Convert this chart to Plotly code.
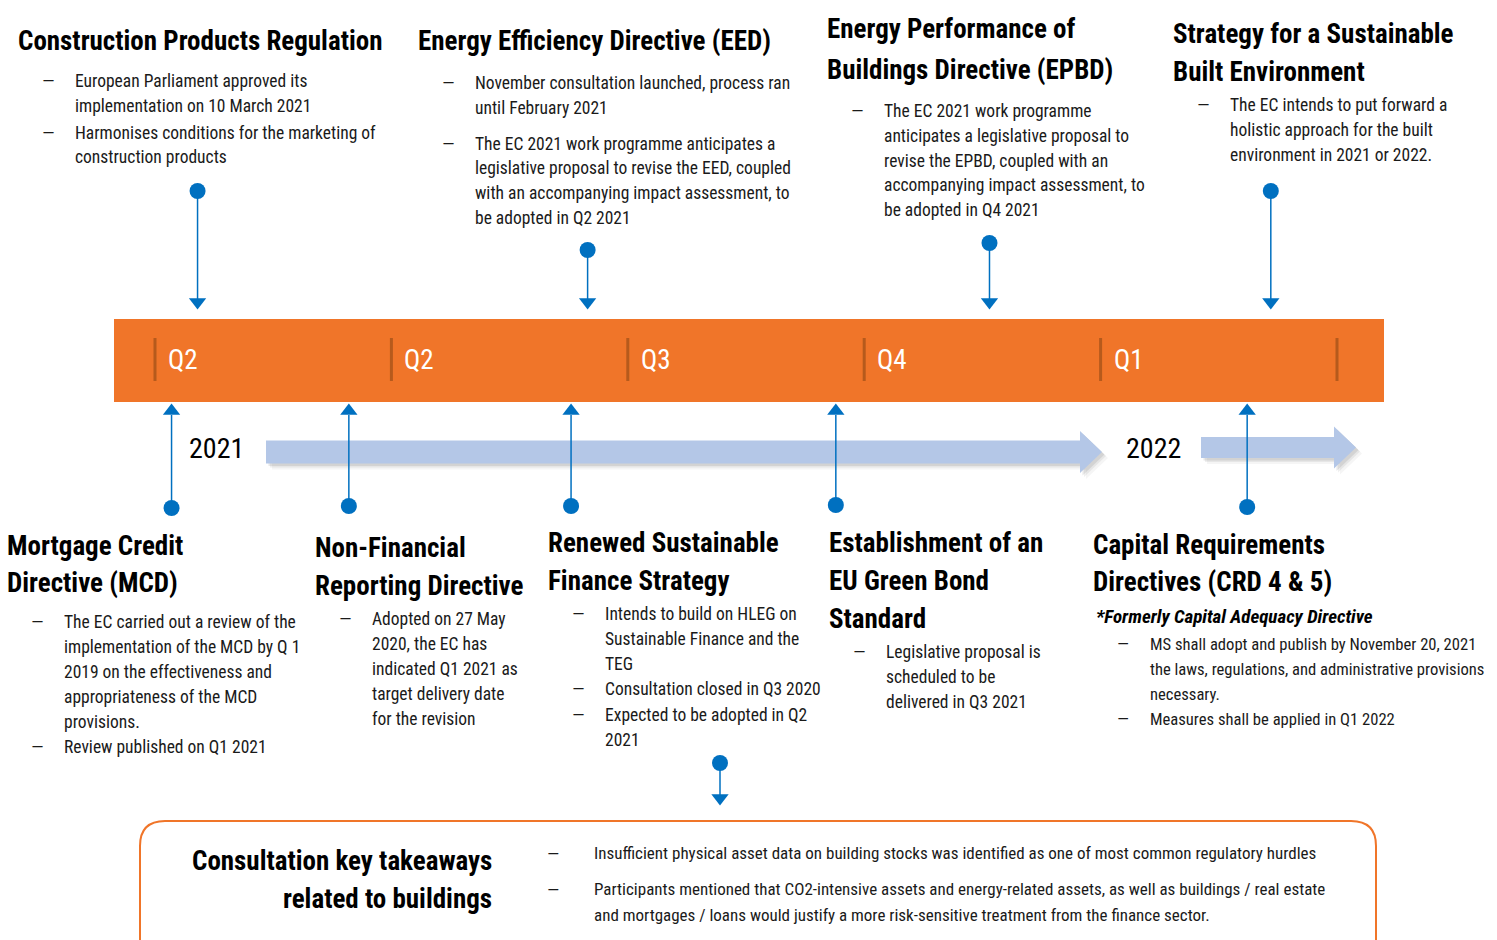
import plotly.graph_objects as go

# ---------------- DATA ----------------
quarter_labels = ["Q2", "Q2", "Q3", "Q4", "Q1"]
year_labels = ["2021", "2022"]

# timeline position of each event, in quarters from the start of the first "Q2" segment
top_titles = [
    ["Construction Products Regulation"],
    ["Energy Efficiency Directive (EED)"],
    ["Energy Performance of", "Buildings Directive (EPBD)"],
    ["Strategy for a Sustainable", "Built Environment"],
]
top_bullets = [
    [["European Parliament approved its", "implementation on 10 March 2021"],
     ["Harmonises conditions for the marketing of", "construction products"]],
    [["November consultation launched, process ran", "until February 2021"],
     ["The EC 2021 work programme anticipates a", "legislative proposal to revise the EED, coupled",
      "with an accompanying impact assessment, to", "be adopted in Q2 2021"]],
    [["The EC 2021 work programme", "anticipates a legislative proposal to",
      "revise the EPBD, coupled with an", "accompanying impact assessment, to", "be adopted in Q4 2021"]],
    [["The EC intends to put forward a", "holistic approach for the built",
      "environment in 2021 or 2022."]],
]
top_positions = [0.18, 1.83, 3.53, 4.72]

bottom_titles = [
    ["Mortgage Credit", "Directive (MCD)"],
    ["Non-Financial", "Reporting Directive"],
    ["Renewed Sustainable", "Finance Strategy"],
    ["Establishment of an", "EU Green Bond", "Standard"],
    ["Capital Requirements", "Directives (CRD 4 & 5)"],
]
bottom_subtitles = ["", "", "", "", "*Formerly Capital Adequacy Directive"]
bottom_bullets = [
    [["The EC carried out a review of the", "implementation of the MCD by Q 1",
      "2019 on the effectiveness and", "appropriateness of the MCD", "provisions."],
     ["Review published on Q1 2021"]],
    [["Adopted on 27 May", "2020, the EC has", "indicated Q1 2021 as",
      "target delivery date", "for the revision"]],
    [["Intends to build on HLEG on", "Sustainable Finance and the", "TEG"],
     ["Consultation closed in Q3 2020"],
     ["Expected to be adopted in Q2", "2021"]],
    [["Legislative proposal is", "scheduled to be", "delivered in Q3 2021"]],
    [["MS shall adopt and publish by November 20, 2021",
      "the laws, regulations, and administrative provisions", "necessary."],
     ["Measures shall be applied in Q1 2022"]],
]
bottom_positions = [0.07, 0.82, 1.76, 2.88, 4.62]

consultation_title = ["Consultation key takeaways", "related to buildings"]
consultation_bullets = [
    ["Insufficient physical asset data on building stocks was identified as one of most common regulatory hurdles"],
    ["Participants mentioned that CO2-intensive assets and energy-related assets, as well as buildings / real estate",
     "and mortgages / loans would justify a more risk-sensitive treatment from the finance sector."],
]
consultation_position = 2.39

# ---------------- STYLE / LAYOUT ----------------
W, H = 1497, 940
X0, QW = 155.0, 236.4          # pixel of quarter 0 and width of a quarter
ORANGE = "#F07529"
TICK = "#B65A1C"
BLUE = "#0070C0"
LIGHT = "#B4C7E7"
TXT = "#1a1a1a"
FONT = ("Noto Sans ExtraCondensed, Noto Sans Condensed, Roboto Condensed, "
        "Liberation Sans Narrow, DejaVu Sans Condensed, sans-serif")

TSIZE = 27     # headings
BSIZE = 17.5   # body text
CSIZE = 17     # consultation body

def qx(q):
    return X0 + QW * q

fig = go.Figure()
ann = []
shapes = []

def text(x, y, s, size, bold=False, italic=False, anchor="left", color=TXT):
    if bold:
        s = "<b>" + s + "</b>"
    if italic:
        s = "<i>" + s + "</i>"
    x = x - 2 if anchor == "left" else x + 2
    ann.append(dict(x=x, y=y, xref="x", yref="y", text=s, showarrow=False,
                    xanchor=anchor, yanchor="middle",
                    font=dict(family=FONT, size=size, color=color)))

def block(x, title_y, title_lines, title_gap, bullet_y, bullets, line_gap, bullet_gaps,
          tsize=TSIZE, bsize=BSIZE, dash_dx=24, text_dx=57):
    for i, t in enumerate(title_lines):
        text(x, title_y + i * title_gap, t, tsize, bold=True, color="black")
    y = bullet_y
    for bi, b in enumerate(bullets):
        text(x + dash_dx, y, "—", bsize + 1)
        for li, line in enumerate(b):
            text(x + text_dx, y, line, bsize)
            y += line_gap
        if bi < len(bullet_gaps):
            y += bullet_gaps[bi]

# orange band
shapes.append(dict(type="rect", xref="x", yref="y", x0=114, x1=1384, y0=319, y1=402,
                   fillcolor=ORANGE, line=dict(width=0), layer="below"))
for i in range(len(quarter_labels) + 1):
    shapes.append(dict(type="line", xref="x", yref="y", x0=qx(i), x1=qx(i), y0=338, y1=381,
                       line=dict(color=TICK, width=3)))
for i, lab in enumerate(quarter_labels):
    text(qx(i) + 13, 360, lab, 27, color="white")

# light-blue year arrows (shadow + arrow)
def arrow_path(xs, xe, xh, yc, half_shaft, half_head):
    return (f"M {xs},{yc-half_shaft} L {xh},{yc-half_shaft} L {xh},{yc-half_head} "
            f"L {xe},{yc} L {xh},{yc+half_head} L {xh},{yc+half_shaft} L {xs},{yc+half_shaft} Z")

for (xs, xe, xh, yc, hs, hh) in [(266, 1102, 1080, 452, 11.5, 21), (1201, 1356, 1334, 447.5, 10.5, 21)]:
    for k, op in [(6, 0.08), (4, 0.12), (2.5, 0.18)]:
        shapes.append(dict(type="path", xref="x", yref="y",
                           path=arrow_path(xs + k, xe + k, xh + k, yc + k, hs, hh),
                           fillcolor="#7f7f7f", opacity=op, line=dict(width=0), layer="below"))
    shapes.append(dict(type="path", xref="x", yref="y", path=arrow_path(xs, xe, xh, yc, hs, hh),
                       fillcolor=LIGHT, line=dict(width=0), layer="below"))

text(189, 448, year_labels[0], 28, color="black")
text(1126, 448, year_labels[1], 28, color="black")

# bottom box
shapes.append(dict(type="path", xref="x", yref="y",
                   path="M 140,980 L 140,846 Q 140,821 165,821 L 1351,821 Q 1376,821 1376,846 L 1376,980",
                   line=dict(color=ORANGE, width=2), fillcolor="rgba(0,0,0,0)"))

# connectors: top (dot above, arrow pointing down to band)
top_dot_y = [191, 250, 243, 191]
for q, dy in zip(top_positions, top_dot_y):
    x = qx(q)
    fig.add_trace(go.Scatter(x=[x, x], y=[dy, 300], mode="lines",
                             line=dict(color=BLUE, width=1.5), hoverinfo="skip"))
    fig.add_trace(go.Scatter(x=[x], y=[dy], mode="markers", hoverinfo="skip",
                             marker=dict(symbol="circle", size=16, color=BLUE)))
    fig.add_trace(go.Scatter(x=[x], y=[302], mode="markers", hoverinfo="skip",
                             marker=dict(symbol="triangle-down", size=15, color=BLUE)))

bottom_dot_y = [508, 506, 506, 505, 507]
for q, dy in zip(bottom_positions, bottom_dot_y):
    x = qx(q)
    fig.add_trace(go.Scatter(x=[x, x], y=[dy, 415], mode="lines",
                             line=dict(color=BLUE, width=1.5), hoverinfo="skip"))
    fig.add_trace(go.Scatter(x=[x], y=[dy], mode="markers", hoverinfo="skip",
                             marker=dict(symbol="circle", size=16, color=BLUE)))
    fig.add_trace(go.Scatter(x=[x], y=[411], mode="markers", hoverinfo="skip",
                             marker=dict(symbol="triangle-up", size=15, color=BLUE)))

# consultation connector
cx = qx(consultation_position)
fig.add_trace(go.Scatter(x=[cx, cx], y=[763, 796], mode="lines",
                         line=dict(color=BLUE, width=1.5), hoverinfo="skip"))
fig.add_trace(go.Scatter(x=[cx], y=[763], mode="markers", hoverinfo="skip",
                         marker=dict(symbol="circle", size=16, color=BLUE)))
fig.add_trace(go.Scatter(x=[cx], y=[798], mode="markers", hoverinfo="skip",
                         marker=dict(symbol="triangle-down", size=15, color=BLUE)))

# top text blocks
top_layout = [
    dict(x=18, ty=41, tg=0, by=81, gaps=[2], bs=BSIZE),
    dict(x=418, ty=41, tg=0, by=83, gaps=[11], bs=BSIZE),
    dict(x=827, ty=29, tg=41, by=111, gaps=[], bs=BSIZE),
    dict(x=1173, ty=34, tg=38, by=105, gaps=[], bs=BSIZE),
]
for t, b, L in zip(top_titles, top_bullets, top_layout):
    block(L["x"], L["ty"], t, L["tg"], L["by"], b, 24.8, L["gaps"], bsize=L["bs"])

# bottom text blocks
bottom_layout = [
    dict(x=7, ty=546, tg=37, by=622, gaps=[0], bs=BSIZE),
    dict(x=315, ty=548, tg=38, by=619, gaps=[], bs=BSIZE),
    dict(x=548, ty=543, tg=38, by=614, gaps=[0, 1], bs=BSIZE),
    dict(x=829, ty=543, tg=38, by=652, gaps=[], bs=BSIZE),
    dict(x=1093, ty=545, tg=37, by=644, gaps=[0], bs=16.6),
]
for t, sub, b, L in zip(bottom_titles, bottom_subtitles, bottom_bullets, bottom_layout):
    block(L["x"], L["ty"], t, L["tg"], L["by"], b, 25, L["gaps"], bsize=L["bs"])
    if sub:
        text(L["x"] + 3, 616, sub, 19, bold=True, italic=True, color="black")

# consultation text
text(492, 861, consultation_title[0], TSIZE, bold=True, anchor="right", color="black")
text(492, 899, consultation_title[1], TSIZE, bold=True, anchor="right", color="black")
y = 853
for bi, b in enumerate(consultation_bullets):
    text(547, y, "—", CSIZE + 1)
    for line in b:
        text(594, y, line, CSIZE)
        y += 25.5
    y += 10.5

fig.update_layout(
    width=W, height=H, margin=dict(l=0, r=0, t=0, b=0),
    paper_bgcolor="white", plot_bgcolor="white", showlegend=False,
    xaxis=dict(range=[0, W], visible=False, fixedrange=True),
    yaxis=dict(range=[H, 0], visible=False, fixedrange=True),
    shapes=shapes, annotations=ann,
)

fig.write_html("out.html", config={"displayModeBar": False},
               post_script="document.body.style.margin='0';document.body.style.overflow='hidden';")
